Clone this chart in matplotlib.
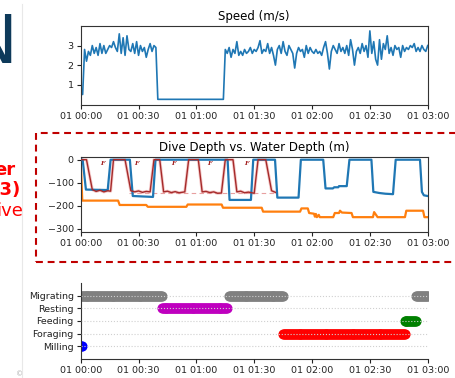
from datetime import datetime, timedelta
import matplotlib
matplotlib.use('Agg')
import matplotlib.pyplot as plt
import matplotlib.dates as mdates
from matplotlib.patches import Rectangle
from matplotlib.lines import Line2D
import numpy as np

# ---- data (minutes from 01 00:00) ----
speed_vals = ([0.5, 0.5,
               2.8, 2.2, 2.7, 2.5, 3.0, 2.6, 2.9, 2.5, 3.1, 2.6,
               3.0, 2.6, 2.8, 3.0, 2.9, 3.2, 2.9, 2.7, 3.6, 2.6,
               3.4, 2.5, 3.5, 2.8, 2.7, 3.1, 2.6, 3.2, 2.5, 3.0,
               2.7, 2.9, 2.4, 2.8, 3.1, 2.7, 3.0, 2.9]
              + [0.25] * 35
              + [2.8, 2.6, 2.9, 2.4, 2.8, 2.6, 3.2, 2.5, 2.7, 2.5,
                 2.8, 2.6, 2.7, 2.9, 2.6, 2.8, 2.7, 2.9, 3.25, 2.6,
                 2.8, 2.7, 3.1, 2.6, 2.9, 2.5, 2.0, 2.8, 3.0, 2.6,
                 3.2, 2.7, 2.5, 3.0, 2.8, 2.6, 1.85, 2.6, 2.9, 2.7,
                 2.8, 2.4, 3.0, 2.6, 2.9, 2.7, 2.6, 2.8, 2.6, 2.7,
                 2.5, 2.9, 3.2, 2.6, 1.8, 2.7, 3.0, 2.8, 2.6, 3.1,
                 2.7, 2.9, 2.6, 3.0, 2.5, 3.3, 2.8, 2.0, 2.7, 2.9,
                 2.6, 3.1, 2.7, 3.0, 2.4, 3.75, 2.6, 3.2, 2.3, 2.0,
                 3.3, 2.3, 3.1, 2.8, 3.5, 2.6, 2.9, 2.5, 3.0, 2.8,
                 2.9, 2.4, 3.0, 2.7, 2.9, 2.8, 3.0, 2.9, 3.1, 2.7,
                 2.9, 2.7, 3.0, 2.8, 2.7, 3.0])
speed_t = list(range(len(speed_vals)))

dive = [(0, 0), (1, 0), (2.7, -130), (14, -132), (15.5, 0), (25.5, 0),
        (27, -158), (37.5, -162), (38.8, 0), (76.2, 0), (77.2, -175),
        (88.3, -175), (89.5, 0), (100.8, 0), (102, -165), (113, -165),
        (114.2, 0), (125.8, 0), (127, -125), (130.8, -125), (131.5, -120),
        (133.6, -120), (134, -115), (138, -115), (139.4, 0), (150.8, 0),
        (151.8, -140), (155, -145), (158, -148), (162, -150), (163.4, 0),
        (176, 0), (177, -140), (178, -155), (180, -158)]

water = [(0, 0), (0.8, -178), (19.4, -178), (20.2, -197), (34, -197),
         (34.8, -205), (54.8, -205), (55.5, -195), (73.1, -195),
         (73.8, -209), (93.9, -209), (94.6, -226), (113.8, -226),
         (114.5, -212), (117.8, -212), (118.5, -232), (121, -235),
         (121.5, -248), (122, -236), (122.5, -250), (123.5, -240),
         (124, -250), (131, -250), (131.8, -232), (134, -232),
         (134.5, -222), (135.5, -230), (140.5, -232), (141.2, -250),
         (151.6, -250), (152.2, -228), (153.2, -240), (154, -250),
         (168.2, -250), (168.9, -222), (177.6, -222), (178.3, -250),
         (180, -250)]

# overlaid reference dive profile (dark red)
profile = [(0, 0), (3, 0), (6, -130), (8, -138), (10, -133), (12, -140),
           (14, -135), (15.5, -137), (17, 0), (23, 0), (26, -135),
           (28, -140), (30, -136), (32, -142), (34, -138), (36, -140),
           (38, 0), (41, 0), (43, -140), (45, -137), (47, -143), (49, -139),
           (51, -144), (54, -140), (56, 0), (61, 0), (63, -140), (65, -138),
           (67, -143), (69, -140), (71, -146), (73, -145), (75, 0), (79, 0),
           (81, -140), (83, -137), (85, -144), (87, -141), (90, -146),
           (92, 0), (96, 0), (99, -135), (101, -142)]
f_marks = [11, 29, 48, 67, 86]

behaviours = ['Milling', 'Foraging', 'Feeding', 'Resting', 'Migrating']
beh_colors = {'Migrating': 'gray', 'Resting': 'm', 'Feeding': 'g',
              'Foraging': 'r', 'Milling': 'b'}
beh_segments = [('Milling', 0, 0.5), ('Migrating', 0, 42),
                ('Resting', 42, 76), ('Migrating', 77, 105),
                ('Foraging', 105, 168), ('Feeding', 168, 174),
                ('Migrating', 174, 180)]

base = datetime(2021, 1, 1)


def to_dt(minutes):
    return [base + timedelta(minutes=float(m)) for m in minutes]


fig = plt.figure(figsize=(4.55, 3.78), dpi=100)
fig.set_facecolor('w')

ax1 = fig.add_axes([0.1774, 0.7222, 0.7626, 0.209])
ax2 = fig.add_axes([0.1774, 0.3854, 0.7626, 0.2])
ax3 = fig.add_axes([0.1774, 0.0503, 0.7626, 0.201])

# speed
ax1.plot(to_dt(speed_t), speed_vals, color='#1f77b4', lw=1.2)
ax1.set_title('Speed (m/s)', fontsize=8.5, pad=4)
ax1.set_yticks([1, 2, 3])
ax1.set_ylim(-0.04, 4.0)

# dive vs water depth
pt, pd_ = zip(*profile)
ax2.plot(to_dt(pt), pd_, color='#f0b0b0', lw=2.2, alpha=0.7, zorder=1)
ax2.plot(to_dt([25, 101]), [-145, -145], color='#e8a0a0', lw=0.8,
         ls=(0, (4, 3)), zorder=1)
ax2.plot(to_dt(pt), pd_, color='#a52a2a', lw=1.0, zorder=4)
for f in f_marks:
    ax2.text(to_dt([f])[0], -15, 'F', color='#a01818', fontsize=4.5,
             family='DejaVu Serif', style='italic', weight='bold',
             ha='center', va='center', zorder=5)
dt_, dd = zip(*dive)
ax2.plot(to_dt(dt_), dd, color='#1f77b4', lw=1.6, zorder=3)
wt, wd = zip(*water)
ax2.plot(to_dt(wt), wd, color='#ff7f0e', lw=1.6, zorder=2)
ax2.set_title('Dive Depth vs. Water Depth (m)', fontsize=8.5, pad=4)
ax2.set_yticks([0, -100, -200, -300])
ax2.set_ylim(-316, 13)

# behaviour states
for name, t0, t1 in beh_segments:
    ts = np.arange(t0, t1 + 0.01, 0.5)
    ax3.plot(to_dt(ts), [behaviours.index(name)] * len(ts), 'o',
             color=beh_colors[name], ms=6.3, zorder=2)
ax3.set_yticks(range(len(behaviours)))
ax3.set_yticklabels(behaviours)
ax3.set_ylim(-1, 5)
ax3.grid(axis='y', ls=':', color='#d0d0d0', lw=0.8, zorder=3)
ax3.set_axisbelow(False)
ax3.spines['top'].set_visible(False)
ax3.spines['right'].set_visible(False)

for ax in (ax1, ax2, ax3):
    ax.set_xlim(base, base + timedelta(hours=3))
    ax.xaxis.set_major_locator(mdates.MinuteLocator(byminute=[0, 30]))
    ax.xaxis.set_major_formatter(mdates.DateFormatter('%d %H:%M'))
    ax.tick_params(labelsize=6.8, length=3, width=0.8, pad=2,
                   colors='#222222')
    for s in ax.spines.values():
        s.set_linewidth(0.8)
        s.set_color('#333333')

# slide decorations around the chart
fig.add_artist(Line2D([22 / 455, 22 / 455], [0, 0.99], color='#e8e8e8', lw=0.8))
fig.text(17 / 455, 1 - 63 / 378, 'N', fontsize=48, color='#0e3a5a',
         ha='right', va='baseline')
fig.text(15 / 455, 1 - 170 / 378, 'er', fontsize=13, color='#ff0000',
         weight='bold', ha='right', va='center')
fig.text(20 / 455, 1 - 190 / 378, '03)', fontsize=13, color='#ff0000',
         weight='bold', ha='right', va='center')
fig.text(23 / 455, 1 - 210.5 / 378, 'ive', fontsize=13, color='#ff0000',
         ha='right', va='center')
fig.text(20 / 455, 1 - 374 / 378, '\u00a9', fontsize=5, color='#aaaaaa',
         ha='center', va='center')
fig.add_artist(Rectangle((36 / 455, 1 - 262 / 378), 0.93, (262 - 133) / 378,
                         fill=False, ec='#c00000', lw=1.5,
                         ls=(0, (3.3, 2.3))))

fig.savefig('out.png', dpi=100)
